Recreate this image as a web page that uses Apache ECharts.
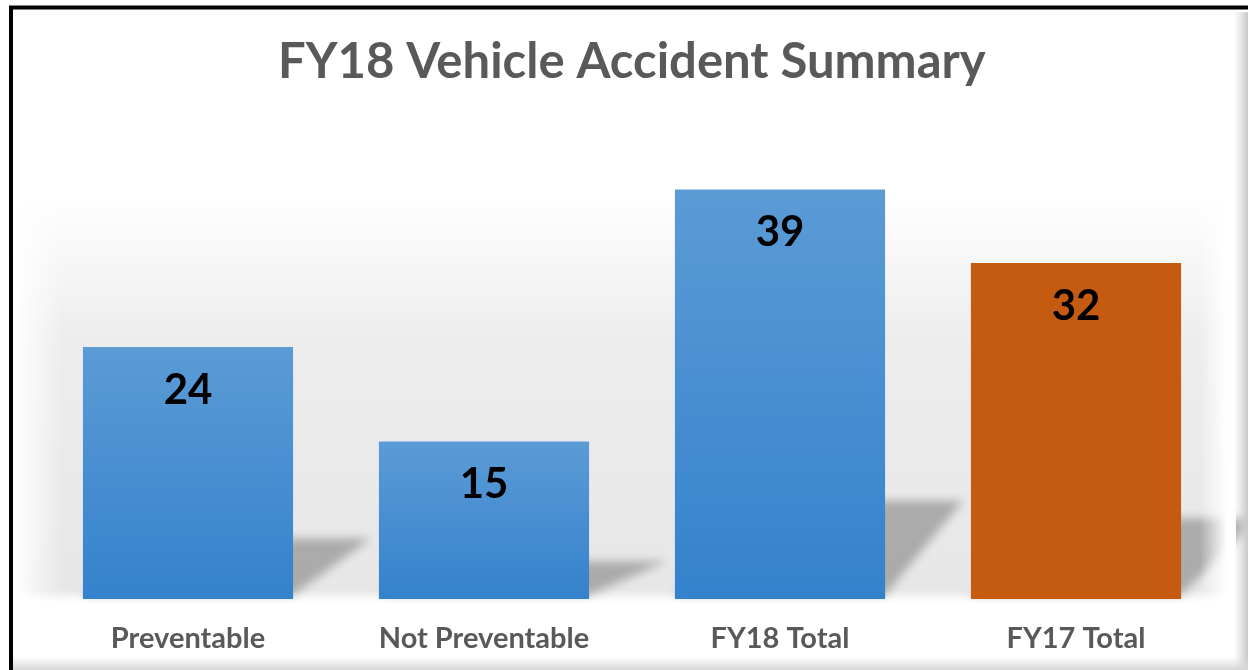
<!DOCTYPE html>
<html>
<head>
<meta charset="utf-8">
<script src="https://cdn.jsdelivr.net/npm/echarts@6/dist/echarts.min.js"></script>
<style>
html,body{margin:0;padding:0;background:#fff;}
#chart{width:1248px;height:670px;}
</style>
</head>
<body>
<div id="chart"></div>
<script>
var titleText = "FY18 Vehicle Accident Summary";
var categories = ["Preventable", "Not Preventable", "FY18 Total", "FY17 Total"];
var values = [24, 15, 39, 32];
var barKinds = ["blue", "blue", "blue", "orange"];

var chart = echarts.init(document.getElementById('chart'), null, {renderer: 'canvas'});

var blueGrad = new echarts.graphic.LinearGradient(0, 0, 0, 1, [
  {offset: 0, color: '#5b9bd6'},
  {offset: 1, color: '#3482cc'}
]);
var styles = {
  blue: {color: blueGrad},
  orange: {color: '#c55a11'}
};

var barRatio = 0.71;
var SHIFT = 3000;

var option = {
  backgroundColor: '#ffffff',
  animation: false,
  title: {
    text: titleText,
    left: 273,
    top: 33,
    textStyle: {
      fontFamily: 'Lato',
      fontWeight: 'bold',
      fontSize: 49,
      color: '#595959'
    }
  },
  graphic: [
    {
      type: 'rect', z: -10, silent: true,
      shape: {x: 14, y: 195, width: 1222, height: 407},
      style: {
        fill: new echarts.graphic.LinearGradient(0, 0, 0, 1, [
          {offset: 0, color: 'rgba(255,255,255,1)'},
          {offset: 0.35, color: '#ededed'},
          {offset: 0.97, color: '#e7e7e7'},
          {offset: 1, color: 'rgba(255,255,255,1)'}
        ])
      }
    },
    {
      type: 'rect', z: -9, silent: true,
      shape: {x: 13, y: 185, width: 50, height: 420},
      style: {
        fill: new echarts.graphic.LinearGradient(0, 0, 1, 0, [
          {offset: 0, color: 'rgba(255,255,255,1)'},
          {offset: 1, color: 'rgba(255,255,255,0)'}
        ])
      }
    },
    {
      type: 'rect', z: 40, silent: true,
      shape: {x: 1200, y: 185, width: 36, height: 420},
      style: {
        fill: new echarts.graphic.LinearGradient(0, 0, 1, 0, [
          {offset: 0, color: 'rgba(255,255,255,0)'},
          {offset: 0.75, color: 'rgba(255,255,255,1)'},
          {offset: 1, color: 'rgba(255,255,255,1)'}
        ])
      }
    },
    {
      type: 'rect', z: 50, silent: true,
      shape: {x: 1234, y: 12, width: 14, height: 658},
      style: {
        fill: new echarts.graphic.LinearGradient(0, 0, 1, 0, [
          {offset: 0, color: 'rgba(210,210,210,0)'},
          {offset: 1, color: 'rgba(200,200,200,1)'}
        ])
      }
    },
    {
      type: 'rect', z: 50, silent: true,
      shape: {x: 13, y: 656, width: 1235, height: 14},
      style: {
        fill: new echarts.graphic.LinearGradient(0, 0, 0, 1, [
          {offset: 0, color: 'rgba(220,220,220,0)'},
          {offset: 1, color: 'rgba(215,215,215,1)'}
        ])
      }
    },
    {
      type: 'polyline', z: 100, silent: true,
      shape: {points: [[11, 680], [11, 7.5], [1260, 7.5]]},
      style: {stroke: '#000', lineWidth: 4, fill: null}
    }
  ],
  grid: {left: 40, right: 24, top: 179, bottom: 71},
  xAxis: {
    type: 'category',
    data: categories,
    axisLine: {show: false},
    axisTick: {show: false},
    axisLabel: {
      margin: 25,
      fontFamily: 'Lato',
      fontWeight: 'bold',
      fontSize: 29,
      color: '#595959'
    }
  },
  yAxis: {
    type: 'value',
    min: 0,
    max: 40,
    show: false,
    splitLine: {show: false}
  },
  series: [
    {
      type: 'custom',
      z: 1,
      silent: true,
      clip: false,
      data: values.map(function (v, i) { return [i, v]; }),
      renderItem: function (params, api) {
        var i = api.value(0);
        var v = api.value(1);
        var base = api.coord([i, 0]);
        var top = api.coord([i, v]);
        var band = api.size([1, 0])[0];
        var w = band * barRatio;
        var xL = base[0] - w / 2 - SHIFT;
        var xR = base[0] + w / 2 - SHIFT;
        var h = base[1] - top[1];
        var s = 0.24, d = 78;
        var yb = base[1] - 4;
        return {
          type: 'polygon',
          shape: {points: [[xL, yb], [xR, yb], [xR + d, base[1] - s * h], [xL + d, base[1] - s * h]]},
          style: {
            fill: '#000',
            shadowBlur: 10,
            shadowOffsetX: SHIFT,
            shadowOffsetY: 0,
            shadowColor: 'rgba(160,160,160,0.85)'
          }
        };
      }
    },
    {
      type: 'bar',
      z: 2,
      barCategoryGap: '29%',
      data: values.map(function (v, i) {
        return {value: v, itemStyle: styles[barKinds[i]]};
      }),
      label: {
        show: true,
        position: 'insideTop',
        distance: 22,
        fontFamily: 'Lato',
        fontWeight: 'bold',
        fontSize: 42,
        color: '#000000'
      }
    }
  ]
};
chart.setOption(option);
</script>
</body>
</html>
